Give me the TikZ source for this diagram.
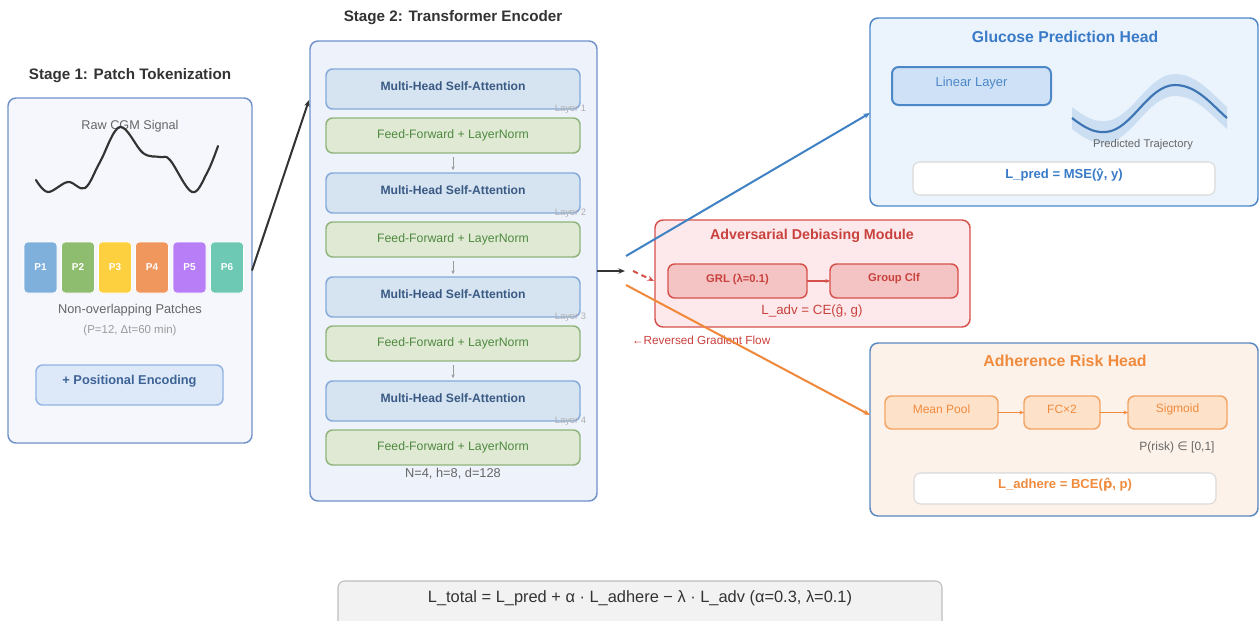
\documentclass[tikz,border=0pt]{standalone}
\usepackage{fontspec}
\setmainfont{Liberation Sans}
\newfontfamily\dejavu{DejaVu Sans}
\usetikzlibrary{arrows.meta,calc}

\definecolor{stageborder}{HTML}{7091C9}
\definecolor{sonefill}{HTML}{F5F7FC}
\definecolor{stwofill}{HTML}{EEF2FA}
\definecolor{titlegray}{HTML}{333333}
\definecolor{midgray}{HTML}{666666}
\definecolor{softgray}{HTML}{9A9A9A}
\definecolor{mhsafill}{HTML}{D6E4F1}
\definecolor{mhsaborder}{HTML}{84AADB}
\definecolor{mhsatext}{HTML}{3A5A85}
\definecolor{fffill}{HTML}{DFE9D4}
\definecolor{ffborder}{HTML}{8FB47C}
\definecolor{fftext}{HTML}{4F8A3F}
\definecolor{pefill}{HTML}{DDE9F9}
\definecolor{peborder}{HTML}{92B3E3}
\definecolor{petext}{HTML}{3E6396}
\definecolor{advfill}{HTML}{FDE9EB}
\definecolor{advborder}{HTML}{D6504C}
\definecolor{advtext}{HTML}{C9413D}
\definecolor{grlfill}{HTML}{F4C3C3}
\definecolor{glufill}{HTML}{EBF3FC}
\definecolor{gluborder}{HTML}{4C87C8}
\definecolor{glutext}{HTML}{3A7BC8}
\definecolor{linfill}{HTML}{CFE1F6}
\definecolor{bandblue}{HTML}{CCDFF2}
\definecolor{curveblue}{HTML}{3C74B4}
\definecolor{adhfill}{HTML}{FDF2EA}
\definecolor{adhborder}{HTML}{5A87C0}
\definecolor{adhtext}{HTML}{F08B3E}
\definecolor{subfill}{HTML}{FDE2C9}
\definecolor{subborder}{HTML}{F3A463}
\definecolor{lossborder}{HTML}{D9D9D9}
\definecolor{totfill}{HTML}{F2F2F2}
\definecolor{totborder}{HTML}{BDBDBD}
\definecolor{darkline}{HTML}{333333}
\definecolor{blueline}{HTML}{3F82C4}
\definecolor{orangeline}{HTML}{F0883A}
\definecolor{pone}{HTML}{7FB0DC}
\definecolor{ptwo}{HTML}{8FBD6F}
\definecolor{pthree}{HTML}{FCD03F}
\definecolor{pfour}{HTML}{F0975D}
\definecolor{pfive}{HTML}{B77EF7}
\definecolor{psix}{HTML}{6EC9B4}

\newcommand{\fsz}[1]{\fontsize{#1}{#1}\selectfont}

\tikzset{
  px/.style 2 args={minimum width=#1*0.75pt, minimum height=#2*0.75pt},
  bx/.style={draw, rounded corners=5pt, line width=1.1pt},
  stagebox/.style={bx, rounded corners=6pt, draw=stageborder},
  title/.style={font=\bfseries\fsz{11.4}, text=titlegray},
  mhsabox/.style={bx, px={254}{40}, fill=mhsafill, draw=mhsaborder},
  mhsalabel/.style={font=\bfseries\fsz{9.1}, text=mhsatext},
  ffbox/.style={bx, px={254}{35}, fill=fffill, draw=ffborder},
  fflabel/.style={font=\fsz{9.2}, text=fftext},
  layerlabel/.style={font=\fsz{7}, text=softgray!80, anchor=east},
  patch/.style={draw=white, line width=0.4pt, rounded corners=3pt, px={33}{51}, font=\bfseries\fsz{7.5}, text=white},
  arrowtip/.style={-{Stealth[length=5pt,width=4pt]}},
  smallarrow/.style={-{Stealth[length=3pt,width=2.4pt]}, draw=softgray, line width=0.5pt},
  subbox/.style={bx, px={113}{33}, fill=subfill, draw=subborder},
  sublabel/.style={font=\fsz{9}, text=adhtext},
}

\begin{document}
\begin{tikzpicture}[x=0.75pt,y=-0.75pt, every node/.style={inner sep=0pt, outer sep=0pt}]
\useasboundingbox (0,0) rectangle (1260,621);
\fill[white] (0,0) rectangle (1260,621);

% ---------- Stage 1 ----------
\node[title] (t1) at (130,76) {Stage 1: Patch Tokenization};
\node[stagebox, px={244}{345}, fill=sonefill] (s1) at (130,270.5) {};
\node[font=\fsz{9.5}, text=midgray] (raw) at (130,126) {Raw CGM Signal};
\draw[darkline, line width=1.6pt, line cap=round] plot[smooth, tension=0.6] coordinates {
  (36,180) (48,192) (68,182) (85,188) (100,162) (120,127)
  (143,153) (160,157) (170,160) (192,192) (207,173) (218,146)};
\node[patch, fill=pone]   (p1) at (40.5,267.5) {P1};
\node[patch, fill=ptwo]   (p2) at (78,267.5)   {P2};
\node[patch, fill=pthree] (p3) at (115,267.5)  {P3};
\node[patch, fill=pfour]  (p4) at (152,267.5)  {P4};
\node[patch, fill=pfive]  (p5) at (189.5,267.5){P5};
\node[patch, fill=psix]   (p6) at (227,267.5)  {P6};
\node[font=\fsz{9.6}, text=midgray] (nop) at (130,310) {Non-overlapping Patches};
\node[font=\fsz{8.6}, text=softgray] (pdt) at (130,331) {(P=12, Δt=60 min)};
\node[bx, px={187}{40}, fill=pefill, draw=peborder] (pe) at (129.5,385) {};
\node[font=\bfseries\fsz{9.6}, text=petext] (pel) at ($(pe.center)+(0,-4)$) {+ Positional Encoding};

% ---------- Stage 2 ----------
\node[title] (t2) at (453,18) {Stage 2: Transformer Encoder};
\node[stagebox, px={287}{460}, fill=stwofill] (s2) at (453.5,271) {};
\foreach \k in {1,...,4}{
  \pgfmathsetmacro\my{89+104*(\k-1)}
  \pgfmathsetmacro\fy{135.5+104*(\k-1)}
  \pgfmathsetmacro\ly{109+104*(\k-1)}
  \node[mhsabox] (m\k) at (453,\my) {};
  \node[mhsalabel] (ml\k) at ($(m\k.center)+(0,-3)$) {Multi-Head Self-Attention};
  \node[ffbox] (f\k) at (453,\fy) {};
  \node[fflabel] (fl\k) at (f\k.center) {Feed-Forward + LayerNorm};
  \node[layerlabel] (ll\k) at (586,\ly) {Layer \k};
}
\foreach \k/\n in {1/2,2/3,3/4}{
  \draw[smallarrow, shorten <=3pt, shorten >=2pt] (f\k.south) -- (m\n.north);
}
\node[font=\fsz{9.6}, text=midgray] (cfg) at (453,474) {N=4, h=8, d=128};

\coordinate (s2in) at (309,100);
\draw[arrowtip, darkline, line width=1.5pt] (s1.east) -- (s2in);

\coordinate (split) at (625,271);
\draw[arrowtip, darkline, line width=1.5pt] (s2.east) -- (split);

% ---------- Glucose prediction head ----------
\node[bx, px={388}{188}, fill=glufill, draw=gluborder, rounded corners=6pt] (g) at (1064,112) {};
\node[font=\bfseries\fsz{11.8}, text=glutext] (gt) at (1065,37) {Glucose Prediction Head};
\node[bx, px={159}{38}, fill=linfill, draw=gluborder, line width=1.5pt] (lin) at (971.5,86) {};
\node[font=\fsz{9.7}, text=gluborder] (linl) at ($(lin.center)+(0,-3)$) {Linear Layer};
% uncertainty band around the predicted trajectory
\fill[bandblue] (1072,107) .. controls (1085,117) and (1094,122) .. (1106,121)
  .. controls (1132,119) and (1148,74) .. (1175,74) .. controls (1197,74) and (1212,94) .. (1227,107)
  -- (1227,129) .. controls (1212,116) and (1197,96) .. (1175,96)
  .. controls (1148,96) and (1132,141) .. (1106,143) .. controls (1094,144) and (1085,139) .. (1072,129) -- cycle;
\draw[curveblue, line width=1.6pt] (1072,118) .. controls (1085,128) and (1094,133) .. (1106,132)
  .. controls (1132,130) and (1148,85) .. (1175,85) .. controls (1197,85) and (1212,105) .. (1227,118);
\node[font=\fsz{8.4}, text=midgray] (traj) at (1143,145) {Predicted Trajectory};
\node[bx, px={302}{33}, fill=white, draw=lossborder, line width=0.8pt] (lp) at (1064,178.5) {};
\node[font=\bfseries\fsz{9.8}, text=glutext] (lpl) at ($(lp.center)+(0,-4)$) {L\_pred = MSE(ŷ, y)};

% ---------- Adversarial debiasing module ----------
\node[bx, px={315}{107}, fill=advfill, draw=advborder, rounded corners=6pt] (adv) at (812.5,273.5) {};
\node[font=\bfseries\fsz{10.7}, text=advtext] (advt) at (812,236) {Adversarial Debiasing Module};
\node[bx, px={139}{34}, fill=grlfill, draw=advborder] (grl) at (737.5,281) {};
\node[font=\bfseries\fsz{8.4}, text=advtext] (grll) at ($(grl.center)+(0,-2)$) {GRL (λ=0.1)};
\node[bx, px={128}{34}, fill=grlfill, draw=advborder] (clf) at (894,281) {};
\node[font=\bfseries\fsz{8.4}, text=advtext] (clfl) at ($(clf.center)+(0,-2)$) {Group Clf};
\draw[-{Stealth[length=3.5pt,width=3pt]}, advborder, line width=0.9pt] (grl.east) -- (clf.west);
\node[font=\fsz{10}, text=advtext] (advl) at (812,311) {L\_adv = CE(ĝ, g)};
\node[font=\fsz{8.8}, text=advtext, anchor=west] (rgf) at (632,340) {←Reversed Gradient Flow};

% ---------- Adherence risk head ----------
\node[bx, px={388}{173}, fill=adhfill, draw=adhborder, rounded corners=6pt] (a) at (1064,429.5) {};
\node[font=\bfseries\fsz{11.9}, text=adhtext] (at) at (1065,361) {Adherence Risk Head};
\node[subbox] (mp) at (941.5,412.5) {};
\node[sublabel] (mpl) at ($(mp.center)+(0,-3)$) {Mean Pool};
\node[subbox, px={76}{33}] (fc) at (1062,412.5) {};
\node[sublabel] (fcl) at ($(fc.center)+(0,-3)$) {FC×2};
\node[subbox, px={99}{33}] (sg) at (1177.5,412.5) {};
\node[sublabel] (sgl) at ($(sg.center)+(0,-3)$) {Sigmoid};
\draw[-{Stealth[length=3.5pt,width=3pt]}, adhtext, line width=0.9pt] (mp.east) -- (fc.west);
\draw[-{Stealth[length=3.5pt,width=3pt]}, adhtext, line width=0.9pt] (fc.east) -- (sg.west);
\node[font=\fsz{9}, text=midgray] (risk) at (1177,447) {P(risk) {\dejavu ∈} [0,1]};
\node[bx, px={302}{31}, fill=white, draw=lossborder, line width=0.8pt] (la) at (1065,488.5) {};
\node[font=\bfseries\fsz{9.8}, text=adhtext] (lal) at ($(la.center)+(0,-4)$) {L\_adhere = BCE({\dejavu p̂}, p)};

% ---------- Connectors out of the encoder ----------
\coordinate (bstart) at (626,256);
\coordinate (gin) at (870,113);
\draw[arrowtip, blueline, line width=1.5pt] (bstart) -- (gin);
\coordinate (ostart) at (626,285);
\coordinate (ain) at (870,415);
\draw[arrowtip, orangeline, line width=1.5pt] (ostart) -- (ain);
\coordinate (rstart) at (633,271);
\coordinate (rend) at (654,281);
\draw[arrowtip, advborder, line width=1.5pt, dash pattern=on 4pt off 3pt] (rstart) -- (rend);

% ---------- Total loss ----------
\begin{scope}
\clip (0,0) rectangle (1260,621);
\node[bx, px={604}{59}, fill=totfill, draw=totborder, line width=0.8pt] (tot) at (640,610.5) {};
\end{scope}
\node[font=\fsz{12.3}, text=titlegray] (totl) at (640,598) {L\_total = L\_pred + α · L\_adhere − λ · L\_adv (α=0.3, λ=0.1)};
\end{tikzpicture}
\end{document}
